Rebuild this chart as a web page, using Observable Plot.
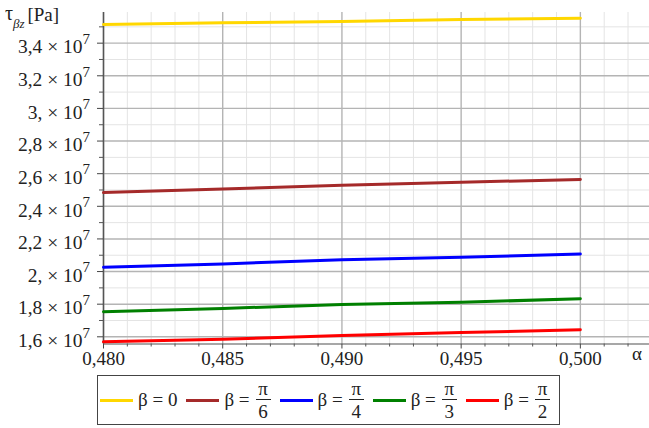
<!DOCTYPE html>
<html>
<head>
<meta charset="utf-8">
<script src="https://cdn.jsdelivr.net/npm/d3@7"></script>
<script src="https://cdn.jsdelivr.net/npm/@observablehq/plot@0.6"></script>
<style>
  body { margin: 0; background: #fff; font-family: "Liberation Serif", "Times New Roman", Tinos, "DejaVu Serif", serif; }
  #wrap { position: relative; width: 649px; height: 428px; overflow: hidden; }
  #chart svg { display: block; }
  #legend {
    position: absolute; left: 97px; top: 375px; width: 463px; height: 50px;
    box-sizing: border-box; border: 1.5px solid #444;
    display: flex; align-items: center; padding-left: 2px;
    font-size: 19px; color: #222;
  }
  .item { display: flex; align-items: center; margin-right: 9px; }
  .sw { width: 33px; height: 3px; margin-right: 5px; }
  .eq { white-space: pre; }
  .frac { display: inline-flex; flex-direction: column; align-items: center; margin-left: 6px; line-height: 19px; }
  .frac .bar { width: 15px; border-top: 1px solid #222; margin: 1px 0 2px; }
</style>
</head>
<body>
<div id="wrap">
  <div id="chart"></div>
  <div id="legend"></div>
</div>
<script>
// Shear stress τ_βz versus α for several angles β
const alpha = [0.480, 0.485, 0.490, 0.495, 0.500];
const tauBeta0   = [3.5145e7, 3.525e7, 3.533e7, 3.545e7, 3.553e7];
const tauBetaPi6 = [2.484e7, 2.506e7, 2.529e7, 2.547e7, 2.565e7];
const tauBetaPi4 = [2.026e7, 2.047e7, 2.072e7, 2.0875e7, 2.108e7];
const tauBetaPi3 = [1.7535e7, 1.774e7, 1.798e7, 1.812e7, 1.833e7];
const tauBetaPi2 = [1.569e7, 1.585e7, 1.608e7, 1.626e7, 1.643e7];

const seriesNames = ["β = 0", "β = π/6", "β = π/4", "β = π/3", "β = π/2"];
const betaValues = ["0", "π/6", "π/4", "π/3", "π/2"];
const seriesColors = ["#FFD700", "#A52A2A", "#0000FF", "#008000", "#FF0000"];
const seriesValues = [tauBeta0, tauBetaPi6, tauBetaPi4, tauBetaPi3, tauBetaPi2];

const xTicks = [0.480, 0.485, 0.490, 0.495, 0.500];
const xTickLabels = ["0,480", "0,485", "0,490", "0,495", "0,500"];
const xMinorTicks = [0.481, 0.482, 0.483, 0.484, 0.486, 0.487, 0.488, 0.489,
                     0.491, 0.492, 0.493, 0.494, 0.496, 0.497, 0.498, 0.499, 0.501, 0.502];
const yTicks = [1.6e7, 1.8e7, 2.0e7, 2.2e7, 2.4e7, 2.6e7, 2.8e7, 3.0e7, 3.2e7, 3.4e7];
const yTickLabels = ["1,6 × 10", "1,8 × 10", "2, × 10", "2,2 × 10", "2,4 × 10",
                     "2,6 × 10", "2,8 × 10", "3, × 10", "3,2 × 10", "3,4 × 10"];
const yTickExponent = "7";
const yMinorTicks = [1.7e7, 1.9e7, 2.1e7, 2.3e7, 2.5e7, 2.7e7, 2.9e7, 3.1e7, 3.3e7, 3.5e7];

const xDomain = [0.480, 0.5029];
const yDomain = [1.5559e7, 3.588e7];

const rows = seriesNames.flatMap((name, s) =>
  alpha.map((a, i) => ({ series: name, alpha: a, tau: seriesValues[s][i] })));

const serif = '"Liberation Serif", "Times New Roman", Tinos, "DejaVu Serif", serif';

const chart = Plot.plot({
  width: 649,
  height: 375,
  marginLeft: 103,
  marginRight: 0,
  marginTop: 12,
  marginBottom: 31.5,
  style: { fontFamily: serif, fontSize: "19px", color: "#222", background: "transparent" },
  x: { domain: xDomain, label: null },
  y: { domain: yDomain, label: null },
  color: { domain: seriesNames, range: seriesColors },
  marks: [
    Plot.gridX(xMinorTicks, { stroke: "#e4e4e4", strokeOpacity: 1, strokeWidth: 1 }),
    Plot.gridY(yMinorTicks, { stroke: "#e4e4e4", strokeOpacity: 1, strokeWidth: 1 }),
    Plot.gridX(xTicks, { stroke: "#b4b4b4", strokeOpacity: 1, strokeWidth: 1.4 }),
    Plot.gridY(yTicks, { stroke: "#b4b4b4", strokeOpacity: 1, strokeWidth: 1.4 }),
    Plot.ruleY([yDomain[0]], { stroke: "#8a8a8a", strokeWidth: 1.5 }),
    Plot.ruleX([xDomain[0]], { stroke: "#555", strokeWidth: 1.5 }),
    Plot.line(rows, { x: "alpha", y: "tau", z: "series", stroke: "series", strokeWidth: 3 }),
    Plot.axisX(xTicks, {
      label: null, tickSize: 5, tickPadding: 2, stroke: "#444", fill: "#222", fontSize: 19,
      fontFamily: serif,
      tickFormat: d => xTickLabels[xTicks.findIndex(t => Math.abs(t - d) < 1e-9)]
    }),
    Plot.axisX(xMinorTicks, { label: null, tickSize: 3, stroke: "#555", tickFormat: () => "" }),
    Plot.axisY(yTicks, { label: null, tickSize: 6, stroke: "#444", tickFormat: () => "" }),
    Plot.axisY(yMinorTicks, { label: null, tickSize: 4, stroke: "#555", tickFormat: () => "" }),
    Plot.text(yTicks, {
      y: d => d, text: (d, i) => yTickLabels[i], frameAnchor: "left", fontFamily: serif,
      textAnchor: "end", dx: -21, dy: 4, fontSize: 19.5, fill: "#222"
    }),
    Plot.text(yTicks, {
      y: d => d, text: () => yTickExponent, frameAnchor: "left", fontFamily: serif,
      textAnchor: "start", dx: -21, dy: -4, fontSize: 15, fill: "#222"
    })
  ]
});

document.getElementById("chart").append(chart);

// Axis titles: τ_βz [Pa] at the top of the y axis, α at the end of the x axis
const svg = d3.select(chart);
const titles = svg.append("g").attr("font-family", serif).attr("fill", "#222");
const yTitle = titles.append("text").attr("x", 32).attr("y", 20).attr("font-size", 20);
yTitle.append("tspan").text("τ");
yTitle.append("tspan").attr("dy", 8).attr("font-size", 13).attr("font-style", "italic").text("βz");
yTitle.append("tspan").attr("dy", -7).attr("dx", 3).attr("font-size", 19).text("[Pa]");
titles.append("text").attr("x", 637).attr("y", 360).attr("font-size", 19).text("α");

// Legend with stacked fractions for the β values
const legend = d3.select("#legend");
seriesNames.forEach((name, s) => {
  const item = legend.append("div").attr("class", "item");
  item.append("div").attr("class", "sw").style("background", seriesColors[s]);
  const parts = betaValues[s].split("/");
  if (parts.length === 1) {
    item.append("span").attr("class", "eq").text("β = " + parts[0]);
  } else {
    item.append("span").attr("class", "eq").text("β =");
    const frac = item.append("span").attr("class", "frac");
    frac.append("span").text(parts[0]);
    frac.append("span").attr("class", "bar");
    frac.append("span").text(parts[1]);
  }
});
</script>
</body>
</html>
